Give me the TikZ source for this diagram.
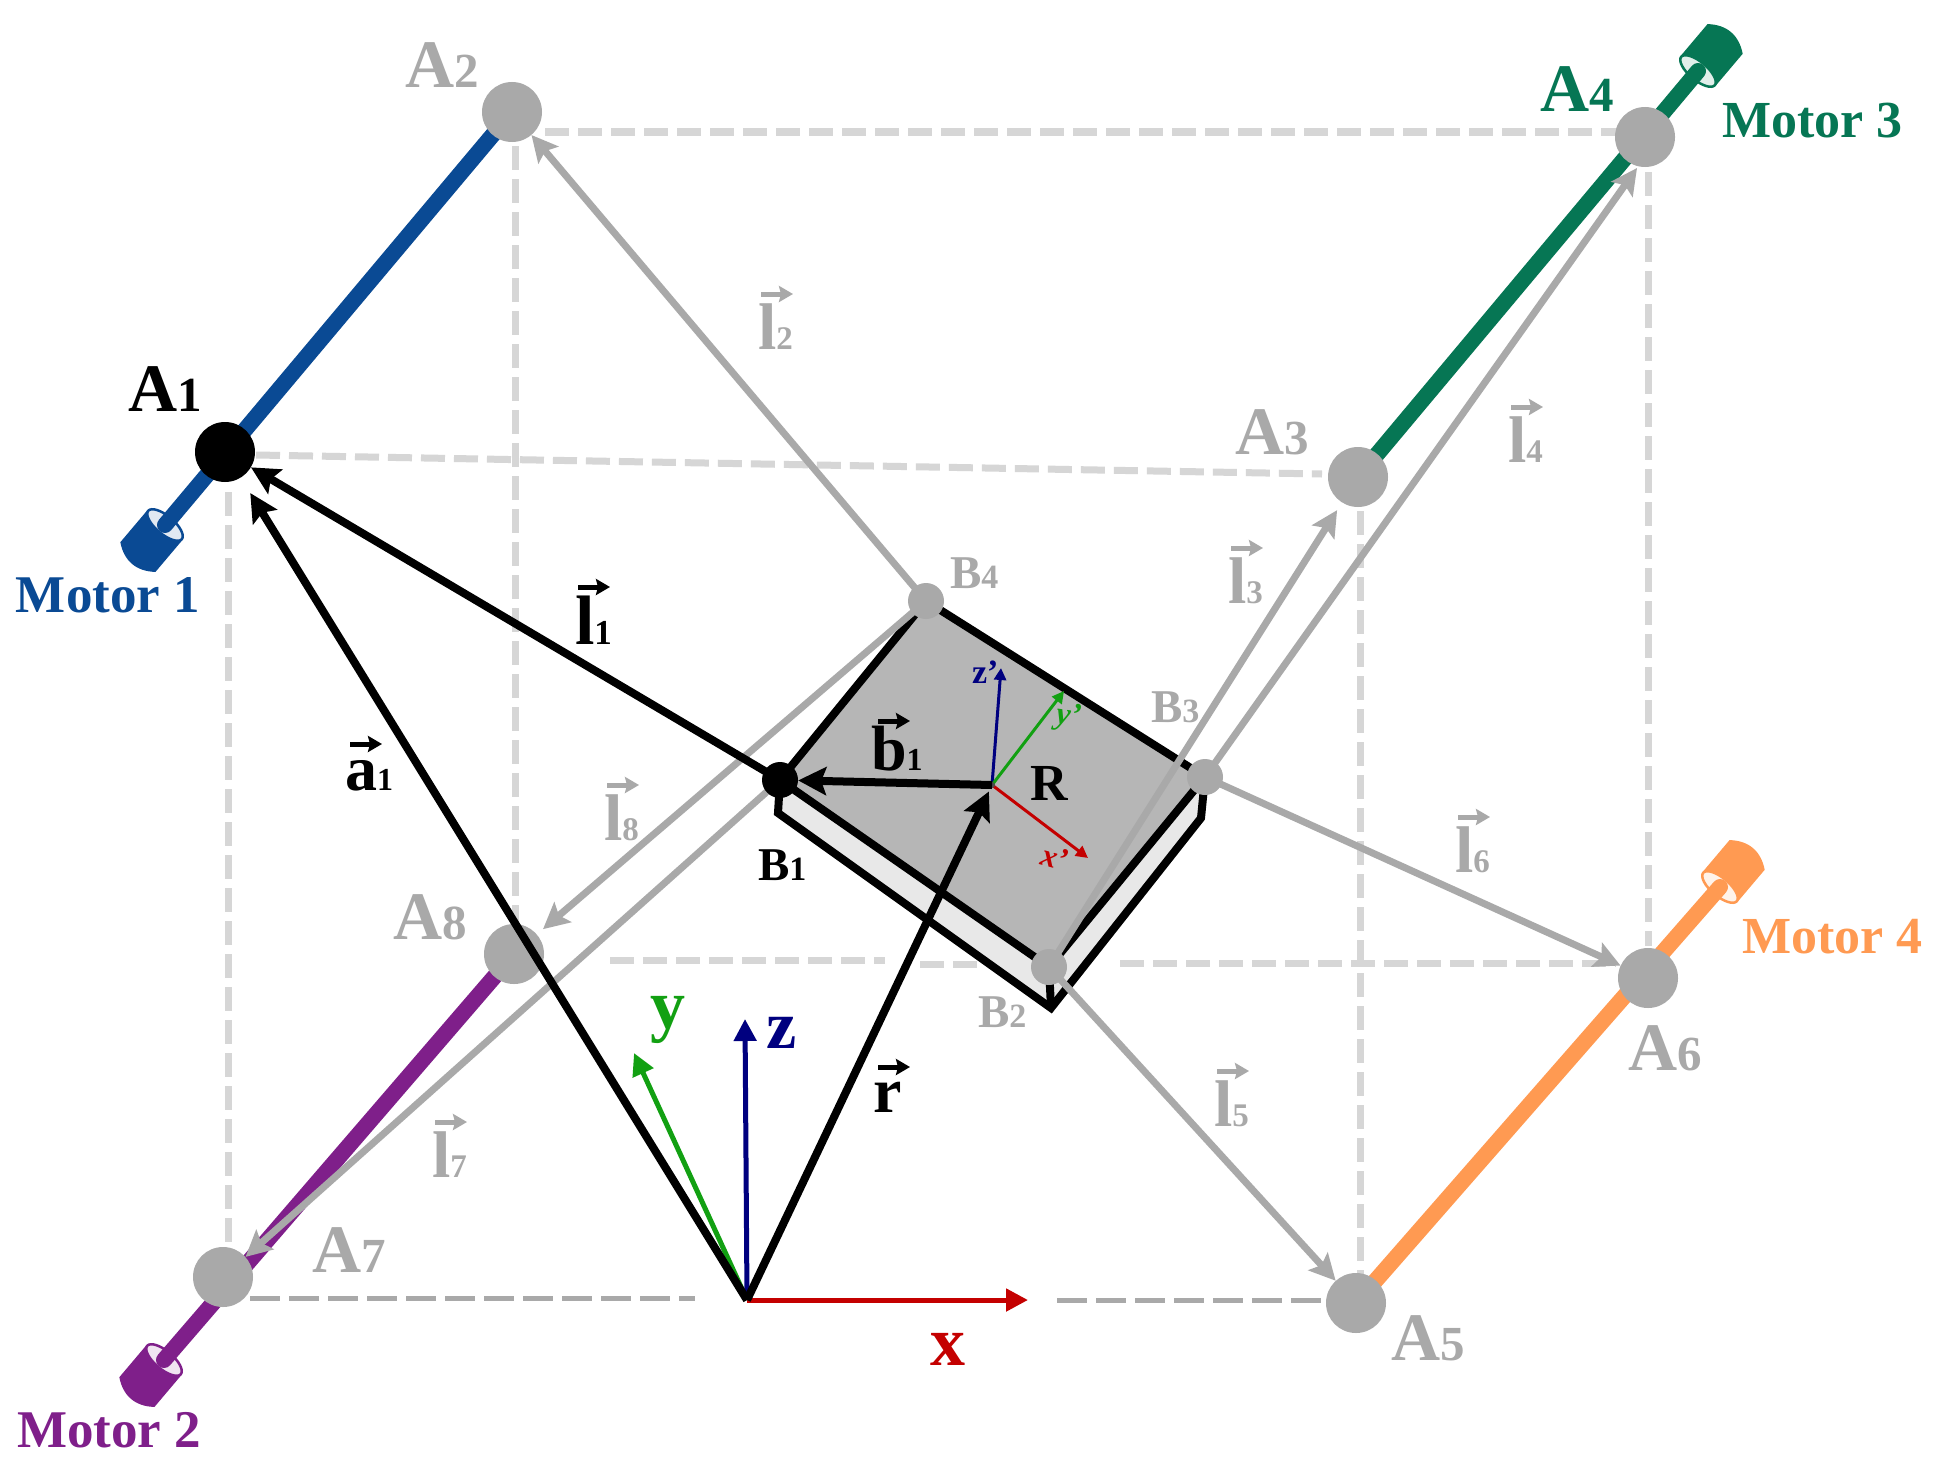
\documentclass[tikz,border=0pt]{standalone}
\usepackage{fontspec}
\setmainfont{Liberation Serif}
\usetikzlibrary{arrows.meta}
\pgfdeclarelayer{back}\pgfdeclarelayer{mid}\pgfdeclarelayer{front}
\pgfsetlayers{back,mid,main,front}
\definecolor{jointgray}{HTML}{A9A9A9}
\definecolor{dashgray}{HTML}{D6D6D6}
\definecolor{mblue}{HTML}{0A4A94}
\definecolor{mgreen}{HTML}{067654}
\definecolor{mpurple}{HTML}{7F1F8A}
\definecolor{morange}{HTML}{FF9A52}
\definecolor{axred}{HTML}{C40000}
\definecolor{axgreen}{HTML}{12A012}
\definecolor{axnavy}{HTML}{00007F}
\definecolor{platetop}{HTML}{B6B6B6}
\definecolor{plateside}{HTML}{E8E8E8}
\tikzset{
  jointA/.style={circle,fill=jointgray,minimum size=60pt,inner sep=0pt},
  jointB/.style={circle,fill=jointgray,minimum size=36pt,inner sep=0pt},
  lab/.style={anchor=base west,inner sep=0pt,outer sep=0pt,font=\bfseries},
  rod/.style={line width=16pt,line cap=round},
  dashline/.style={draw=dashgray,line width=7pt,dash pattern=on 24pt off 9pt},
  dashdark/.style={draw=jointgray,line width=5pt,dash pattern=on 30pt off 9pt},
  grayarrow/.style={draw=jointgray,line width=7pt,-{Stealth[length=26pt,width=26pt,inset=5pt]}},
  blackarrow/.style={draw=black,line width=8pt,-{Stealth[length=28pt,width=28pt,inset=5pt]}},
  axis/.style={line width=5pt,-{Triangle[length=22pt,width=22pt]}},
  localaxis/.style={line width=3pt,-{Triangle[length=12pt,width=12pt]}},
  veclabarrow/.style={line width=5pt,-{Stealth[length=14pt,width=16pt,inset=2pt]}},
  plateedge/.style={draw=black,line width=8pt,line join=miter}
}
\newcommand\sized[2]{{\fontsize{#1}{#1}\selectfont #2}}
\newcommand\capt[7]{\node[lab,text=#6] (#1) at (#2,#3) {\sized{#7}{#4}\sized{\numexpr#7*72/100\relax}{#5}};}
\newcommand\veclab[9]{%
  \node[lab,text=#6] (#1) at (#2,#3) {\sized{#7}{#4}\sized{\numexpr#7/2\relax}{#5}};
  \begin{pgfonlayer}{front}
  \draw[veclabarrow,draw=#6] ([shift={(#9,-#8)}]#2,#3) -- ([shift={(#9+32,-#8)}]#2,#3);
  \end{pgfonlayer}}
\newcommand\motor[6]{% name x y angle colour light
  \begin{scope}[shift={(#2,#3)},rotate=#4]
    \fill[#5] (0,-23) -- (42,-23) .. controls (54,-8) and (54,8) .. (42,23) -- (0,23) .. controls (-12,12) and (-12,-12) .. (0,-23) -- cycle;
    \path[fill=#6,draw=#5,line width=2.5pt] (0,0) ellipse [x radius=9,y radius=22];
    \coordinate (#1) at (0,0);
  \end{scope}}
\begin{document}
\begin{tikzpicture}[x=1pt,y=-1pt]
\useasboundingbox (0,0) rectangle (1942,1477);
\begin{pgfonlayer}{back}
\fill[white] (0,0) rectangle (1942,1477);
\end{pgfonlayer}
% joints
\node[jointA,fill=black] (A1) at (225,452) {};
\node[jointA] (A2) at (512,112) {};
\node[jointA] (A3) at (1358,477) {};
\node[jointA] (A4) at (1645,137) {};
\node[jointA] (A5) at (1356,1303) {};
\node[jointA] (A6) at (1648,978) {};
\node[jointA] (A7) at (223,1277) {};
\node[jointA] (A8) at (514,954) {};
\node[jointB,fill=black] (B1) at (780,780) {};
\node[jointB] (B2) at (1049,967) {};
\node[jointB] (B3) at (1205,777) {};
\node[jointB] (B4) at (926,601) {};
\node[circle,fill=black!70,minimum size=6pt,inner sep=0pt] (R) at (992,785) {};
\coordinate (O) at (747,1300);
% cube edges
\begin{pgfonlayer}{back}
\coordinate (e2a) at (545,132); \coordinate (e2b) at (1618,132);
\coordinate (e1a) at (256,455); \coordinate (e1b) at (1322,474);
\coordinate (v1a) at (228,492); \coordinate (v1b) at (228,1250);
\coordinate (v2a) at (515,146); \coordinate (v2b) at (515,926);
\coordinate (v3a) at (1360,511); \coordinate (v3b) at (1360,1275);
\coordinate (v4a) at (1648,172); \coordinate (v4b) at (1648,946);
\coordinate (c1) at (610,960); \coordinate (c2) at (885,960);
\coordinate (c3) at (920,964); \coordinate (c4) at (980,964);
\coordinate (c5) at (1120,963); \coordinate (c6) at (1616,963);
\coordinate (d0) at (250,1298); \coordinate (d1) at (695,1298);
\coordinate (d2) at (1057,1300); \coordinate (d3) at (1328,1300);
\draw[dashline] (e2a) -- (e2b);
\draw[dashline] (e1a) -- (e1b);
\draw[dashline] (v1a) -- (v1b);
\draw[dashline] (v2a) -- (v2b);
\draw[dashline] (v3a) -- (v3b);
\draw[dashline] (v4a) -- (v4b);
\draw[dashline] (c1) -- (c2);
\draw[dashline] (c3) -- (c4);
\draw[dashline] (c5) -- (c6);
\draw[dashdark] (d0) -- (d1);
\draw[dashdark] (d2) -- (d3);
\end{pgfonlayer}
% motors, rods, plate, arrows
\begin{pgfonlayer}{mid}
\motor{m1}{165}{525}{229.8}{mblue}{mblue!12}
\motor{m2}{164}{1360}{229.8}{mpurple}{mpurple!12}
\motor{m3}{1698}{71}{49.8}{mgreen}{mgreen!12}
\motor{m4}{1720}{887}{49.8}{morange}{morange!12}
\draw[rod,mblue] (A2.center) -- (m1);
\draw[rod,mpurple] (A8.center) -- (m2);
\draw[rod,mgreen] (A3.center) -- (m3);
\draw[rod,morange] (A5.center) -- (m4);
% plate
\coordinate (S1) at (778,813); \coordinate (S2) at (1051,1008); \coordinate (S3) at (1201,818);
\fill[plateside] (S1) -- (S2) -- (S3) -- (B3.center) -- (B2.center) -- (B1.center) -- cycle;
\fill[platetop] (B1.center) -- (B2.center) -- (B3.center) -- (B4.center) -- cycle;
\draw[plateedge] (B1.center) -- (S1) -- (S2) -- (S3) -- (B3.center);
\draw[plateedge] (B2.center) -- (S2);
\draw[plateedge] (B4.center) -- (B1.center) -- (B2.center) -- (B3.center) -- cycle;
% platform axes
\draw[localaxis,axnavy] (R.center) -- (1001,668);
\draw[localaxis,axgreen] (R.center) -- (1064,691);
\draw[localaxis,axred] (R.center) -- (1088,858);
% gray cables
\coordinate (t4) at (1637,168);
\draw[grayarrow] (B4.center) -- (A2);
\draw[grayarrow,shorten >=9pt] (B2.center) -- (A3);
\draw[grayarrow] (B3.center) -- (t4);
\draw[grayarrow] (B2.center) -- (A5);
\draw[grayarrow] (B3.center) -- (A6);
\draw[grayarrow] (B1.center) -- (A7);
\draw[grayarrow,shorten >=8pt] (B4.center) -- (A8);
\end{pgfonlayer}
% black vectors and world axes
\begin{pgfonlayer}{front}
\coordinate (xt) at (1028,1300); \coordinate (yt) at (634,1053); \coordinate (zt) at (745,1019);
\draw[axis,axgreen] (O) -- (yt);
\draw[axis,axnavy] (O) -- (zt);
\draw[axis,axred] (O) -- (xt);
\draw[blackarrow] (B1.center) -- (A1);
\draw[blackarrow,shorten >=18pt] (O) -- (A1);
\draw[blackarrow] (R.center) -- (B1);
\draw[blackarrow,shorten >=4pt] (O) -- (R);
% labels
\capt{tA1}{128}{411}{A}{1}{black}{68}
\capt{tA2}{405}{88}{A}{2}{jointgray}{68}
\capt{tA3}{1235}{454}{A}{3}{jointgray}{68}
\capt{tA4}{1540}{112}{A}{4}{mgreen}{68}
\capt{tA5}{1391}{1360}{A}{5}{jointgray}{68}
\capt{tA6}{1628}{1070}{A}{6}{jointgray}{68}
\capt{tA7}{312}{1272}{A}{7}{jointgray}{68}
\capt{tA8}{393}{939}{A}{8}{jointgray}{68}
\capt{tB1}{758}{880}{B}{1}{black}{47}
\capt{tB2}{978}{1027}{B}{2}{jointgray}{47}
\capt{tB3}{1151}{722}{B}{3}{jointgray}{47}
\capt{tB4}{950}{588}{B}{4}{jointgray}{47}
\node[lab] (tR) at (1030,800) {\sized{52}{R}};
\node[lab,text=mblue] (tM1) at (16,612) {\sized{53}{Motor 1}};
\node[lab,text=mpurple] (tM2) at (17,1447) {\sized{53}{Motor 2}};
\node[lab,text=mgreen] (tM3) at (1722,137) {\sized{52}{Motor 3}};
\node[lab,text=morange] (tM4) at (1742,953) {\sized{52}{Motor 4}};
\node[lab,text=axred] (tx) at (930,1365) {\sized{70}{x}};
\node[lab,text=axgreen] (ty) at (650,1028) {\sized{70}{y}};
\node[lab,text=axnavy] (tz) at (766,1048) {\sized{68}{z}};
\node[lab,text=axnavy] (tzp) at (972,683) {\sized{34}{z’}};
\node[lab,text=axgreen,font=\bfseries\itshape,rotate=-8] (typ) at (1055,723) {\sized{32}{y’}};
\node[lab,text=axred,font=\bfseries\itshape,rotate=-15] (txp) at (1039,864) {\sized{32}{x’}};
\veclab{vl1}{575}{644}{l}{1}{black}{70}{57}{3}
\veclab{vb1}{871}{770}{b}{1}{black}{64}{49}{7}
\veclab{va1}{345}{790}{a}{1}{black}{64}{46}{5}
\veclab{vr}{873}{1112}{r}{}{black}{64}{45}{5}
\veclab{vl2}{758}{349}{l}{2}{jointgray}{66}{55}{3}
\veclab{vl3}{1228}{603}{l}{3}{jointgray}{66}{55}{3}
\veclab{vl4}{1508}{462}{l}{4}{jointgray}{66}{55}{3}
\veclab{vl5}{1214}{1126}{l}{5}{jointgray}{66}{55}{3}
\veclab{vl6}{1455}{872}{l}{6}{jointgray}{66}{55}{3}
\veclab{vl7}{432}{1177}{l}{7}{jointgray}{66}{55}{3}
\veclab{vl8}{604}{840}{l}{8}{jointgray}{66}{55}{3}
\end{pgfonlayer}
\end{tikzpicture}
\end{document}
